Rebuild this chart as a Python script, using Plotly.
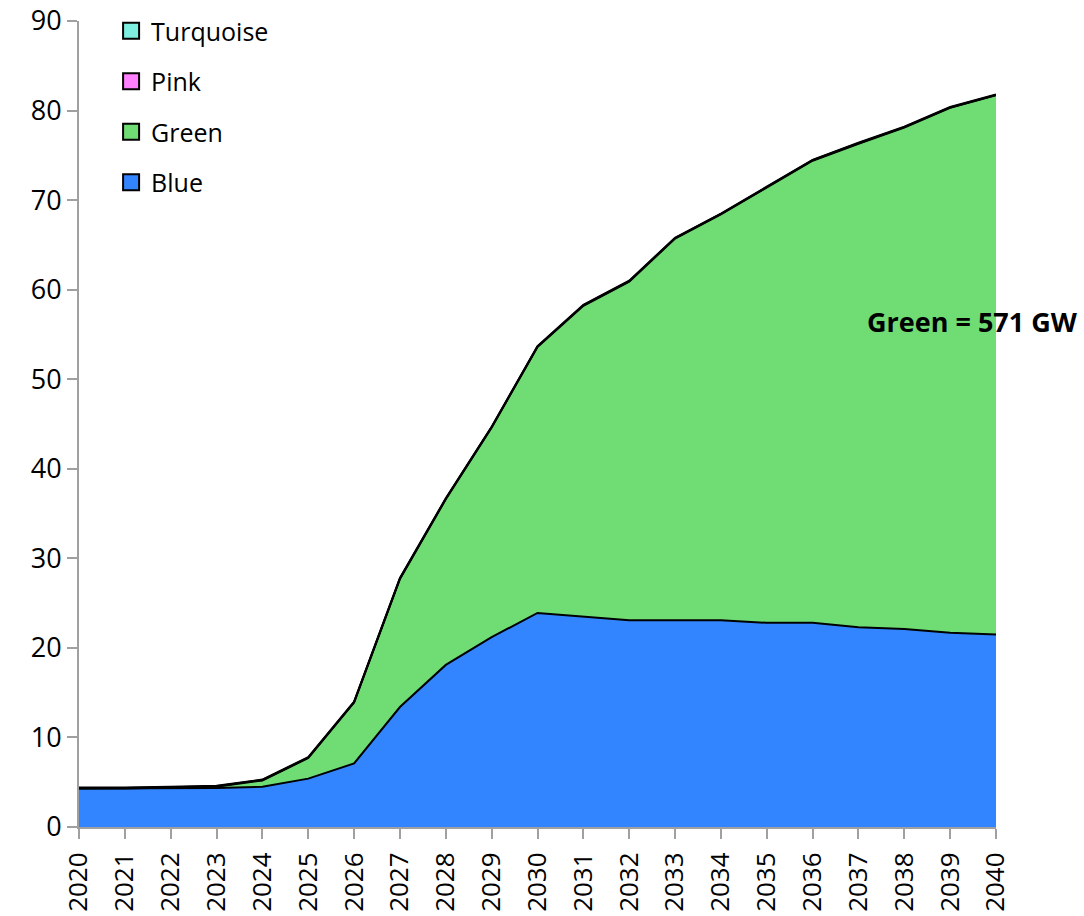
import plotly.graph_objects as go

years = list(range(2020, 2041))
blue = [4.3, 4.3, 4.35, 4.35, 4.5, 5.4, 7.1, 13.4, 18.1, 21.2, 23.9, 23.5, 23.1, 23.1, 23.1, 22.8, 22.8, 22.3, 22.1, 21.7, 21.5]
total = [4.4, 4.4, 4.5, 4.6, 5.3, 7.8, 14.0, 27.8, 36.7, 44.7, 53.7, 58.3, 61.0, 65.8, 68.5, 71.5, 74.5, 76.4, 78.2, 80.4, 81.8]
pink = [0.05] * 21
turquoise = [0.05] * 21
green = [round(t - b - p - q, 2) for t, b, p, q in zip(total, blue, pink, turquoise)]

series = [
    ("Blue", blue, "#3385FF"),
    ("Green", green, "#70DC74"),
    ("Pink", pink, "#FF80FF"),
    ("Turquoise", turquoise, "#7DEEE0"),
]

font = "Open Sans"
W, H = 1084, 916
L, R, T, B = 79, 88, 8, 89
PLOT_TOP = 13  # plot area top, px below paper top

fig = go.Figure()
for name, vals, col in series:
    fig.add_trace(go.Scatter(
        x=years, y=vals, name=name, mode="lines", stackgroup="one",
        fillcolor=col, line=dict(color="black", width=2),
        showlegend=False, hoverinfo="x+y+name",
    ))
# legend entries with square swatches (top to bottom: Turquoise ... Blue)
for name, vals, col in reversed(series):
    fig.add_trace(go.Scatter(
        x=[None], y=[None], name=name, mode="markers",
        marker=dict(symbol="square", size=18, color=col, line=dict(color="black", width=2)),
        legendgroup=name, showlegend=True,
    ))

plot_w = W - L - R
paper_h = H - T - B
fig.add_annotation(
    x=(1080 - L) / plot_w, y=56.4, xref="paper", yref="y", text="<b>Green = 571 GW</b>",
    showarrow=False, font=dict(family=font, size=27, color="black"), xanchor="right",
)

fig.update_layout(
    width=W, height=H,
    margin=dict(l=L, r=R, t=T, b=B),
    plot_bgcolor="white", paper_bgcolor="white",
    font=dict(family=font, size=26, color="black"),
    showlegend=True,
    legend=dict(
        x=0.035, y=1.0, xanchor="left", yanchor="top",
        traceorder="grouped", tracegroupgap=15,
        font=dict(family=font, size=25), bgcolor="rgba(0,0,0,0)",
        itemwidth=30,
    ),
    xaxis=dict(
        range=[2020, 2040], tickmode="array", tickvals=years,
        ticktext=[str(y) for y in years], tickangle=-90,
        showline=True, linecolor="#A0A0A0", linewidth=2,
        ticks="outside", tickcolor="#A0A0A0", ticklen=10, tickwidth=2,
        showgrid=False, zeroline=False, automargin=False,
        ticklabelstandoff=3, ticklabeloverflow="allow",
        tickfont=dict(family=font, size=26),
    ),
    yaxis=dict(
        range=[0, 90], tickvals=list(range(0, 91, 10)),
        domain=[0, 1 - PLOT_TOP / paper_h],
        showline=True, linecolor="#A0A0A0", linewidth=2,
        ticks="outside", tickcolor="#A0A0A0", ticklen=10, tickwidth=2,
        showgrid=False, zeroline=False, automargin=False,
        ticklabeloverflow="allow",
        tickfont=dict(family=font, size=27),
    ),
)

fig.write_html(
    "out.html",
    config={"displayModeBar": False},
    post_script="document.body.style.margin='0';document.body.style.overflow='hidden';",
)
